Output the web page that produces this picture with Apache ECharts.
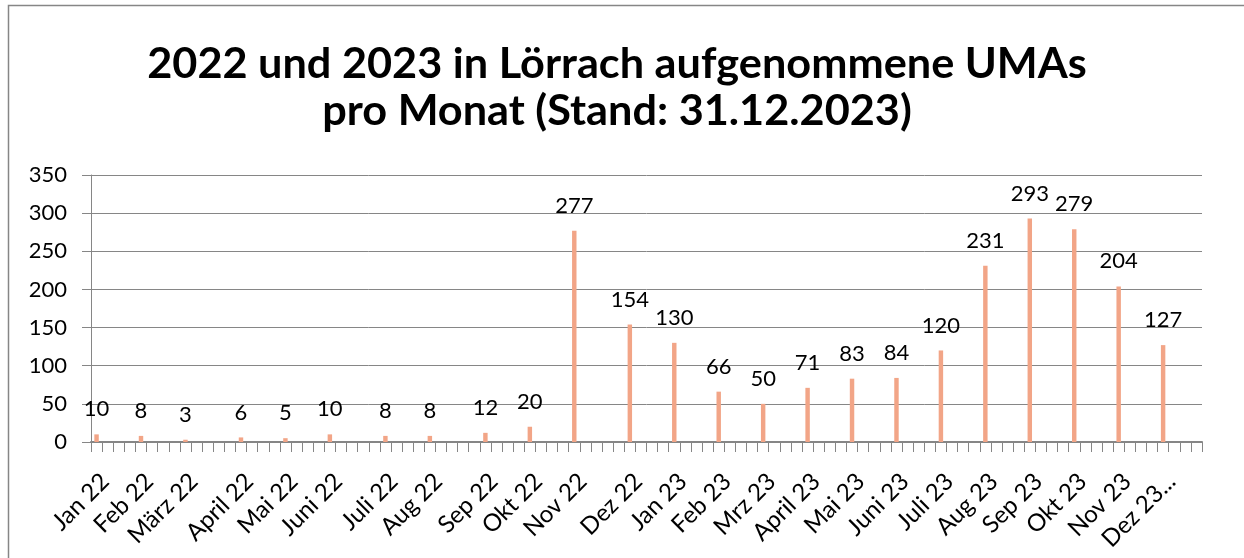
<!DOCTYPE html>
<html>
<head>
<meta charset="utf-8">
<script src="https://cdn.jsdelivr.net/npm/echarts@6/dist/echarts.min.js"></script>
<style>
  html, body { margin: 0; padding: 0; background: #fff; }
  #chart { width: 1244px; height: 558px; }
</style>
</head>
<body>
<div id="chart"></div>
<script>
// Monthly values, and the spreadsheet row each month sits on (rows are roughly weekly)
const months = ['Jan 22', 'Feb 22', 'März 22', 'April 22', 'Mai 22', 'Juni 22', 'Juli 22', 'Aug 22',
  'Sep 22', 'Okt 22', 'Nov 22', 'Dez 22', 'Jan 23', 'Feb 23', 'Mrz 23', 'April 23', 'Mai 23',
  'Juni 23', 'Juli 23', 'Aug 23', 'Sep 23', 'Okt 23', 'Nov 23', 'Dez 23...'];
const values = [10, 8, 3, 6, 5, 10, 8, 8, 12, 20, 277, 154, 130, 66, 50, 71, 83, 84, 120, 231, 293, 279, 204, 127];
const rowIndex = [0, 4, 8, 13, 17, 21, 26, 30, 35, 39, 43, 48, 52, 56, 60, 64, 68, 72, 76, 80, 84, 88, 92, 96];
const rowCount = 100;
const titleLines = ['2022 und 2023 in Lörrach aufgenommene UMAs', 'pro Monat (Stand: 31.12.2023)'];

let categories = [];
let seriesData = [];
for (let i = 0; i < rowCount; i++) {
  categories.push('');
  seriesData.push('-');
}
rowIndex.forEach((row, k) => {
  categories[row] = months[k];
  seriesData[row] = values[k];
});

let chart = echarts.init(document.getElementById('chart'));
let gray = '#868686';
let font = 'Lato, Carlito, sans-serif';

chart.setOption({
  animation: false,
  graphic: [
    {
      type: 'rect',
      shape: { x: 8.5, y: 5.5, width: 1400, height: 700 },
      style: { fill: 'none', stroke: gray, lineWidth: 1.5 },
      silent: true
    },
    {
      type: 'text',
      x: 617,
      y: 41,
      scaleX: 1.03,
      style: {
        text: titleLines.join('\n'),
        textAlign: 'center',
        fontFamily: font,
        fontWeight: 'bold',
        fontSize: 42,
        lineHeight: 47,
        fill: '#000'
      }
    }
  ],
  grid: { left: 91, right: 42, top: 175, bottom: 116 },
  xAxis: {
    type: 'category',
    data: categories,
    axisLine: { lineStyle: { color: gray, width: 2 } },
    axisTick: { show: true, interval: 0, length: 10, lineStyle: { color: gray } },
    axisLabel: {
      interval: 0,
      rotate: 45,
      margin: 27,
      align: 'right',
      verticalAlign: 'top',
      fontFamily: font,
      fontSize: 24,
      color: '#000'
    }
  },
  yAxis: {
    type: 'value',
    min: 0,
    max: 350,
    interval: 50,
    axisLine: { show: true, lineStyle: { color: gray } },
    axisTick: { show: true, length: 9, lineStyle: { color: gray } },
    splitLine: { lineStyle: { color: gray, width: 1 } },
    axisLabel: {
      margin: 24,
      fontFamily: font,
      fontSize: 22,
      color: '#000'
    }
  },
  series: [
    {
      type: 'bar',
      data: seriesData,
      barWidth: '40%',
      itemStyle: { color: '#F2A587' },
      label: {
        show: true,
        position: 'top',
        distance: 14,
        fontFamily: font,
        fontSize: 22,
        color: '#000'
      }
    }
  ]
});
</script>
</body>
</html>
